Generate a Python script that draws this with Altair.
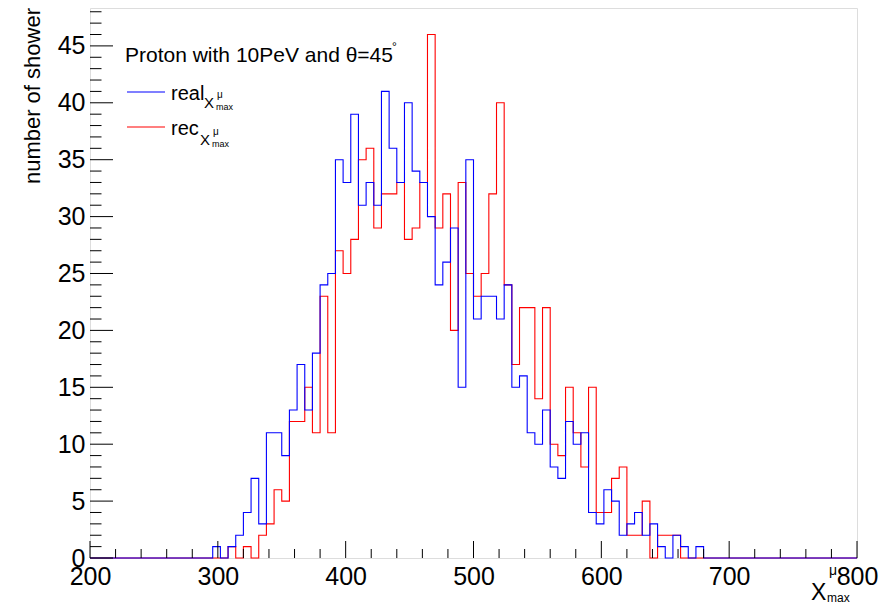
import altair as alt
import pandas as pd

# histogram binning (ROOT TH1: 100 bins from 200 to 800)
X_MIN, X_MAX, BIN_W = 200, 800, 6
FIRST_BIN = 296  # left edge of first listed bin; all other bins are empty

blue_counts = [1, 0, 1, 2, 4, 7, 3, 11, 11, 9,
               13, 17, 13, 18, 24, 25, 35, 33, 39, 31,
               33, 31, 41, 36, 33, 40, 34, 33, 30, 24,
               26, 29, 15, 35, 21, 23, 23, 21, 24, 15,
               16, 11, 10, 13, 8, 7, 12, 10, 11, 4,
               3, 6, 5, 2, 3, 4, 2, 3, 1, 0,
               2, 1, 0, 1]
red_counts = [0, 0, 1, 0, 1, 0, 2, 3, 6, 5,
              12, 12, 15, 11, 23, 11, 27, 25, 28, 35,
              36, 29, 32, 32, 33, 28, 29, 33, 46, 29,
              32, 20, 33, 25, 23, 25, 32, 40, 24, 17,
              22, 22, 14, 22, 10, 9, 15, 11, 8, 15,
              4, 4, 7, 8, 2, 2, 5, 0, 2, 2,
              2, 0, 0, 0]

x_major = [200, 300, 400, 500, 600, 700, 800]
x_minor = [v for v in range(220, 800, 20) if v % 100 != 0]
y_major = [0, 5, 10, 15, 20, 25, 30, 35, 40, 45]
y_minor = [v for v in range(0, 49) if v % 5 != 0]
Y_MAX = 48.33

title_text = "Proton with 10PeV and θ=45"


def hist_frame(counts):
    n_bins = (X_MAX - X_MIN) // BIN_W
    full = [0] * n_bins
    start = (FIRST_BIN - X_MIN) // BIN_W
    for i, c in enumerate(counts):
        full[start + i] = c
    edges = [X_MIN + i * BIN_W for i in range(n_bins)] + [X_MAX]
    vals = full + [full[-1]]
    return pd.DataFrame({"x": edges, "n": vals})


xs = alt.Scale(domain=[X_MIN, X_MAX], nice=False, zero=False)
ys = alt.Scale(domain=[0, Y_MAX], nice=False, zero=False)

FONT = "Liberation Sans"

xaxis = alt.Axis(values=x_major, ticks=False, domain=False, grid=False,
                 labelFontSize=25, labelFont=FONT, labelColor="black",
                 labelPadding=6, title=None, labelFlush=False)
yaxis = alt.Axis(values=y_major, ticks=False, domain=False, grid=False,
                 labelFontSize=25, labelFont=FONT, labelColor="black",
                 labelPadding=5, title=None)


def hist_layer(counts, color):
    return alt.Chart(hist_frame(counts)).mark_line(
        interpolate="step-after", color=color, strokeWidth=1.1
    ).encode(
        x=alt.X("x:Q", scale=xs, axis=xaxis),
        y=alt.Y("n:Q", scale=ys, axis=yaxis),
    )


red = hist_layer(red_counts, "#ff0000")
blue = hist_layer(blue_counts, "#0000ff")

xmaj = alt.Chart(pd.DataFrame({"v": x_major})).mark_rule(color="black", strokeWidth=1).encode(
    x=alt.X("v:Q", scale=xs), y=alt.value(550), y2=alt.value(533))
xmin = alt.Chart(pd.DataFrame({"v": x_minor})).mark_rule(color="black", strokeWidth=1).encode(
    x=alt.X("v:Q", scale=xs), y=alt.value(550), y2=alt.value(541))
ymaj = alt.Chart(pd.DataFrame({"v": y_major})).mark_rule(color="black", strokeWidth=1).encode(
    y=alt.Y("v:Q", scale=ys), x=alt.value(0), x2=alt.value(23))
ymin = alt.Chart(pd.DataFrame({"v": y_minor})).mark_rule(color="black", strokeWidth=1).encode(
    y=alt.Y("v:Q", scale=ys), x=alt.value(0), x2=alt.value(11.5))


def txt(s, x, y, size, align="left", baseline="alphabetic", angle=None, color="black"):
    kw = dict(text=s, fontSize=size, font=FONT, align=align, baseline=baseline, color=color)
    if angle is not None:
        kw["angle"] = angle
    return alt.Chart(pd.DataFrame({"a": [0]})).mark_text(**kw).encode(
        x=alt.value(x), y=alt.value(y))


# legend lines
leg_blue = alt.Chart(pd.DataFrame({"a": [0]})).mark_rule(color="#0000ff", strokeWidth=1.1).encode(
    x=alt.value(37), x2=alt.value(75), y=alt.value(84))
leg_red = alt.Chart(pd.DataFrame({"a": [0]})).mark_rule(color="#ff0000", strokeWidth=1.1).encode(
    x=alt.value(37), x2=alt.value(75), y=alt.value(119))

texts = [
    txt(title_text, 35, 54, 21),
    txt("°", 302, 43, 12),
    txt("real", 81, 92, 20),
    txt("X", 114, 100, 15),
    txt("μ", 127, 90, 10),
    txt("max", 126, 102, 9),
    txt("rec", 81, 127, 20),
    txt("X", 110, 137, 15),
    txt("μ", 123, 127, 10),
    txt("max", 122, 139, 9),
    txt("number of shower", -57, 0, 22, align="right", baseline="middle", angle=270),
    txt("X", 721, 592, 23),
    txt("μ", 739, 567, 14),
    txt("max", 737, 594, 12),
]

chart = alt.layer(red, blue, xmaj, xmin, ymaj, ymin, leg_blue, leg_red, *texts).properties(
    width=767, height=550,
    padding={"left": 82, "top": 0, "right": 22, "bottom": 47},
    autosize=alt.AutoSizeParams(type="none"),
).configure_view(stroke="black", strokeWidth=1).configure(background="white")

chart.save("out.html", embed_options={"renderer": "svg", "actions": False})
